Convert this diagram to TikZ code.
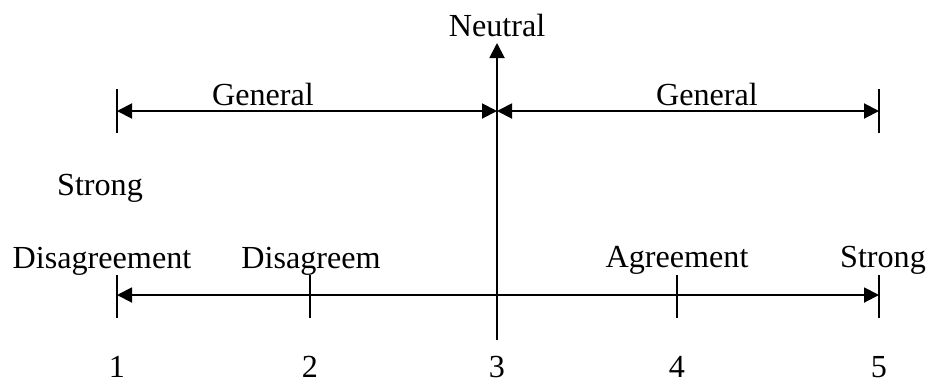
\documentclass[tikz,border=0pt]{standalone}
\usepackage{fontspec}
\setmainfont{Liberation Serif}
\usetikzlibrary{arrows.meta,positioning}
\tikzset{
  lbl/.style={anchor=base,inner sep=0pt,
              font=\fontsize{18.3}{22}\selectfont},
  scalearr/.style={{Triangle[length=0.3cm,width=0.3cm]}-{Triangle[length=0.3cm,width=0.3cm]},
                   line width=1.1pt},
  axarr/.style={-{Triangle[length=0.3cm,width=0.3cm]},line width=1.1pt},
  tickline/.style={line width=1pt}
}
\begin{document}
\begin{tikzpicture}[x=0.02cm,y=-0.02cm]
  \useasboundingbox (0,0) rectangle (928,383);

  % points on the scale
  \coordinate (ul) at (117,111);
  \coordinate (um) at (497,111);
  \coordinate (ur) at (879,111);
  \coordinate (ll) at (117,295);
  \coordinate (lr) at (879,295);
  \coordinate (top) at (497,43);
  \coordinate (bot) at (497,340);

  \node[lbl] (neutral) at (497,36) {Neutral};
  \node[lbl] (genL) at (263,105) {General};
  \node[lbl] (genR) at (707,105) {General};
  \node[lbl] (strongL) at (100,195) {Strong};
  \node[lbl] (disS) at (102,268) {Disagreement};
  \node[lbl] (dis) at (311,268) {Disagreem};
  \node[lbl] (agr) at (677,267) {Agreement};
  \node[lbl] (strongR) at (883,267) {Strong};

  \node[lbl] (n1) at (117,377) {1};
  \node[lbl] (n2) at (310,377) {2};
  \node[lbl] (n3) at (497,377) {3};
  \node[lbl] (n4) at (677,377) {4};
  \node[lbl] (n5) at (879,377) {5};

  % ticks
  \draw[tickline] (117,89) -- (117,133);
  \draw[tickline] (879,89) -- (879,133);
  \draw[tickline] (117,275) -- (117,318);
  \draw[tickline] (310,275) -- (310,318);
  \draw[tickline] (677,275) -- (677,318);
  \draw[tickline] (879,275) -- (879,318);

  \draw[scalearr] (ul) -- (um);
  \draw[scalearr] (um) -- (ur);
  \draw[scalearr] (ll) -- (lr);
  \draw[axarr] (bot) -- (top);

\end{tikzpicture}
\end{document}
